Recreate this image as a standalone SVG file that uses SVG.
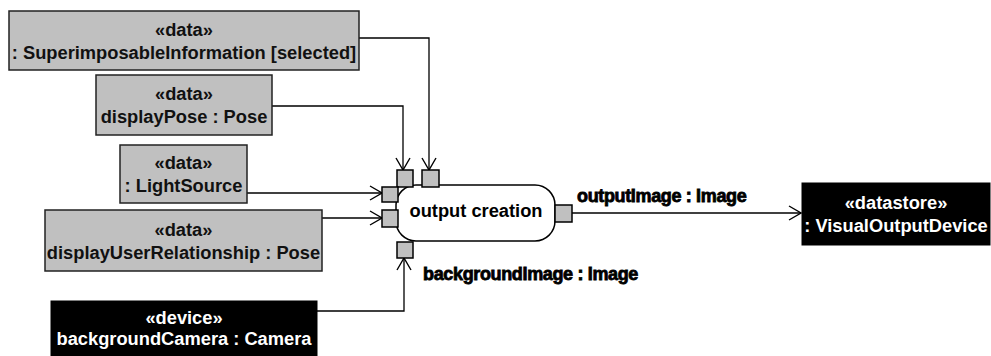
<svg xmlns="http://www.w3.org/2000/svg" width="991" height="356" viewBox="0 0 991 356">
  <style>
    .obj { fill: #c0c0c0; stroke: #222; stroke-width: 1.5; }
    .dev { fill: #000; stroke: #000; stroke-width: 1; }
    .txt { font-family: "Liberation Sans", Arial, sans-serif; font-weight: bold; font-size: 18.3px; text-anchor: middle; fill: #111; }
    .wtxt { font-family: "Liberation Sans", Arial, sans-serif; font-weight: bold; font-size: 18.3px; text-anchor: middle; fill: #fff; }
    .pin { fill: #c0c0c0; stroke: #000; stroke-width: 1.5; }
    .act { fill: #fff; stroke: #000; stroke-width: 1.5; }
    .flow { fill: none; stroke: #000; stroke-width: 1.3; marker-end: url(#open); }
    .lbl { font-family: "Liberation Sans", Arial, sans-serif; font-weight: bold; font-size: 18px; fill: #000; stroke: #000; stroke-width: 0.8; letter-spacing: -0.35px; }
  </style>
  <defs>
    <marker id="open" viewBox="0 0 14 16" refX="13" refY="8" markerWidth="14" markerHeight="16" markerUnits="userSpaceOnUse" orient="auto">
      <path d="M1,1 L13,8 L1,15" fill="none" stroke="#000" stroke-width="1.4"/>
    </marker>
  </defs>

  <!-- object flows -->
  <g id="connectors">
    <path class="flow" d="M359,38 H429 V170"/>
    <path class="flow" d="M272,106 H403 V170"/>
    <path class="flow" d="M247,193 H382"/>
    <path class="flow" d="M322,218 H382"/>
    <path class="flow" d="M317,311 H404 V258"/>
    <path class="flow" d="M572,213 H801"/>
    <text class="lbl" x="577" y="202">outputImage : Image</text>
    <text class="lbl" x="423" y="280">backgroundImage : Image</text>
  </g>

  <g id="superimposableInformation">
    <rect class="obj" x="9" y="11" width="350" height="59"/>
    <text class="txt" x="184" y="35.5">«data»</text>
    <text class="txt" x="184" y="58.5">: SuperimposableInformation [selected]</text>
  </g>

  <g id="displayPose">
    <rect class="obj" x="96" y="75" width="176" height="60"/>
    <text class="txt" x="184" y="99.5">«data»</text>
    <text class="txt" x="184" y="122.5">displayPose : Pose</text>
  </g>

  <g id="lightSource">
    <rect class="obj" x="120" y="145" width="127" height="58"/>
    <text class="txt" x="183.5" y="168.5">«data»</text>
    <text class="txt" x="183.5" y="191.5">: LightSource</text>
  </g>

  <g id="displayUserRelationship">
    <rect class="obj" x="45" y="210" width="277" height="61"/>
    <text class="txt" x="183.5" y="235.5">«data»</text>
    <text class="txt" x="183.5" y="258.5">displayUserRelationship : Pose</text>
  </g>

  <g id="backgroundCamera">
    <rect class="dev" x="51" y="301" width="266" height="56"/>
    <text class="wtxt" x="184" y="323.5">«device»</text>
    <text class="wtxt" x="184" y="345">backgroundCamera : Camera</text>
  </g>

  <g id="visualOutputDevice">
    <rect class="dev" x="802" y="183" width="188" height="62"/>
    <text class="wtxt" x="896" y="208.5">«datastore»</text>
    <text class="wtxt" x="896" y="231.5">: VisualOutputDevice</text>
  </g>

  <g id="outputCreation">
    <rect class="act" x="396" y="185" width="159" height="56" rx="20" ry="20"/>
    <text class="txt" x="476" y="217" style="fill:#000">output creation</text>
    <!-- pins -->
    <rect class="pin" x="397" y="170" width="16" height="17"/>
    <rect class="pin" x="422" y="170" width="17" height="17"/>
    <rect class="pin" x="382" y="187" width="16" height="15"/>
    <rect class="pin" x="382" y="210" width="16" height="17"/>
    <rect class="pin" x="397" y="242" width="16" height="16"/>
    <rect class="pin" x="555" y="205" width="17" height="17"/>
  </g>
</svg>
